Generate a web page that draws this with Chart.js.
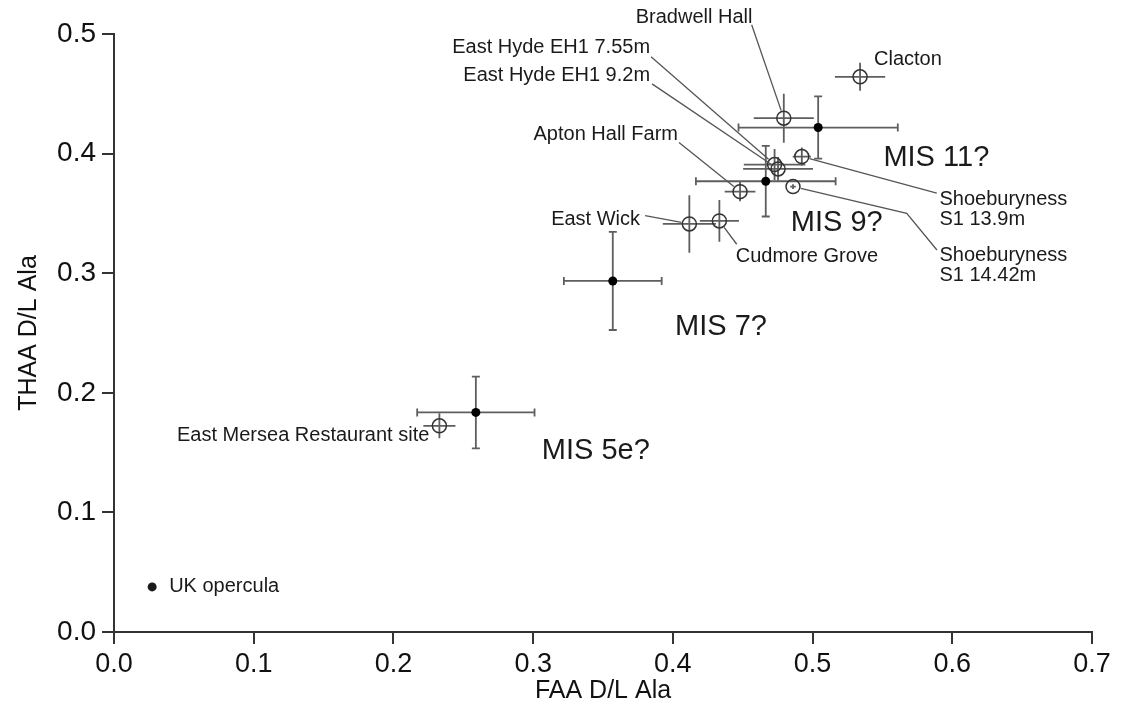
<!DOCTYPE html>
<html>
<head>
<meta charset="utf-8">
<script src="https://cdn.jsdelivr.net/npm/chart.js@4.4.1/dist/chart.umd.min.js"></script>
<style>
	html, body { margin: 0; padding: 0; background: #fff; }
	#wrap { width: 1126px; height: 722px; }
</style>
</head>
<body>
<div id="wrap"><canvas id="chart" width="1126" height="722"></canvas></div>
<script>
// group means (filled dots, capped error bars)
const groupNames = ["MIS 5e", "MIS 7", "MIS 9", "MIS 11"];
const groupFAA = [0.259, 0.357, 0.4665, 0.504];
const groupTHAA = [0.1836, 0.2935, 0.3769, 0.4218];
const groupFAAErr = [0.042, 0.035, 0.050, 0.057];
const groupTHAAErr = [0.030, 0.041, 0.0295, 0.026];

// individual sites (open circles, plain crosses)
const siteNames = ["Clacton", "Bradwell Hall", "Shoeburyness S1 13.9m", "East Hyde EH1 7.55m",
	"East Hyde EH1 9.2m", "Apton Hall Farm", "Shoeburyness S1 14.42m", "East Wick",
	"Cudmore Grove", "East Mersea Restaurant site"];
const siteFAA = [0.534, 0.4794, 0.4923, 0.4728, 0.4753, 0.4481, 0.486, 0.4118, 0.4333, 0.2329];
const siteTHAA = [0.4642, 0.4296, 0.3975, 0.3908, 0.3872, 0.3682, 0.3724, 0.3412, 0.3437, 0.1724];
const siteFAAErr = [0.018, 0.0215, 0.0065, 0.022, 0.025, 0.011, 0.002, 0.019, 0.014, 0.0115];
const siteTHAAErr = [0.0117, 0.0205, 0.0075, 0.013, 0.010, 0.008, 0.002, 0.024, 0.0175, 0.0105];

const xTicks = [0, 0.1, 0.2, 0.3, 0.4, 0.5, 0.6, 0.7];
const yTicks = [0, 0.1, 0.2, 0.3, 0.4, 0.5];

// text placed on the plot, in data units; leader lines end at a site
const siteLabels = [
	{ site: 0, lines: ["Clacton"], x: 0.544, y: 0.4784, align: "left" },
	{ site: 1, lines: ["Bradwell Hall"], x: 0.4152, y: 0.5136, align: "center", leader: [[0.4564, 0.5077]] },
	{ site: 3, lines: ["East Hyde EH1 7.55m"], x: 0.3837, y: 0.4884, align: "right", leader: [[0.3844, 0.4809]] },
	{ site: 4, lines: ["East Hyde EH1 9.2m"], x: 0.3837, y: 0.4650, align: "right", leader: [[0.3851, 0.4583]] },
	{ site: 5, lines: ["Apton Hall Farm"], x: 0.4037, y: 0.4156, align: "right", leader: [[0.4044, 0.4093]] },
	{ site: 7, lines: ["East Wick"], x: 0.3765, y: 0.3451, align: "right", leader: [[0.3801, 0.3481]] },
	{ site: 8, lines: ["Cudmore Grove"], x: 0.4450, y: 0.3138, align: "left", leader: [[0.4457, 0.3242]] },
	{ site: 2, lines: ["Shoeburyness", "S1 13.9m"], x: 0.5908, y: 0.3613, align: "left", leader: [[0.5889, 0.3669]] },
	{ site: 6, lines: ["Shoeburyness", "S1 14.42m"], x: 0.5908, y: 0.3144, align: "left", leader: [[0.5890, 0.3194], [0.5674, 0.3501]] },
	{ site: 9, lines: ["East Mersea Restaurant site"], x: 0.2257, y: 0.1640, align: "right" }
];

const stageLabels = [
	{ text: "MIS 11?", x: 0.5507, y: 0.3964 },
	{ text: "MIS 9?", x: 0.4844, y: 0.3420 },
	{ text: "MIS 7?", x: 0.4016, y: 0.2552 },
	{ text: "MIS 5e?", x: 0.3062, y: 0.1515 }
];

const legendKey = { text: "UK opercula", x: 0.0273, y: 0.0377 };

const FONT = '"Liberation Sans", Arial, sans-serif';
const AXIS = "#333";
const BAR = "#5e5e5e";
const OPEN_R = 7;

function toXY(xs, ys) {
	return xs.map((x, i) => ({ x: x, y: ys[i] }));
}

const errorBars = {
	id: "errorBars",
	beforeDatasetsDraw(chart) {
		const { ctx, scales: { x, y } } = chart;
		ctx.save();
		ctx.strokeStyle = BAR;
		ctx.lineWidth = 1.8;

		function bar(cx, cy, ex, ey, cap) {
			const l = x.getPixelForValue(cx - ex), r = x.getPixelForValue(cx + ex);
			const t = y.getPixelForValue(cy + ey), b = y.getPixelForValue(cy - ey);
			const px = x.getPixelForValue(cx), py = y.getPixelForValue(cy);
			ctx.beginPath();
			ctx.moveTo(l, py); ctx.lineTo(r, py);
			ctx.moveTo(px, t); ctx.lineTo(px, b);
			if (cap) {
				ctx.moveTo(l, py - cap); ctx.lineTo(l, py + cap);
				ctx.moveTo(r, py - cap); ctx.lineTo(r, py + cap);
				ctx.moveTo(px - cap, t); ctx.lineTo(px + cap, t);
				ctx.moveTo(px - cap, b); ctx.lineTo(px + cap, b);
			}
			ctx.stroke();
		}

		groupFAA.forEach((v, i) => bar(v, groupTHAA[i], groupFAAErr[i], groupTHAAErr[i], 4));
		siteFAA.forEach((v, i) => bar(v, siteTHAA[i], siteFAAErr[i], siteTHAAErr[i], 0));
		ctx.restore();
	}
};

const annotations = {
	id: "annotations",
	afterDatasetsDraw(chart) {
		const { ctx, scales: { x, y } } = chart;
		ctx.save();

		// leader lines
		ctx.strokeStyle = "#555";
		ctx.lineWidth = 1.3;
		siteLabels.forEach(lab => {
			if (!lab.leader) return;
			const pts = lab.leader.map(p => [x.getPixelForValue(p[0]), y.getPixelForValue(p[1])]);
			const sx = x.getPixelForValue(siteFAA[lab.site]);
			const sy = y.getPixelForValue(siteTHAA[lab.site]);
			const last = pts[pts.length - 1];
			const d = Math.hypot(sx - last[0], sy - last[1]);
			const ex = sx - (sx - last[0]) / d * (OPEN_R + 1);
			const ey = sy - (sy - last[1]) / d * (OPEN_R + 1);
			ctx.beginPath();
			ctx.moveTo(pts[0][0], pts[0][1]);
			pts.slice(1).forEach(p => ctx.lineTo(p[0], p[1]));
			ctx.lineTo(ex, ey);
			ctx.stroke();
		});

		// site names
		ctx.fillStyle = "#1a1a1a";
		ctx.font = "20px " + FONT;
		ctx.textBaseline = "middle";
		siteLabels.forEach(lab => {
			ctx.textAlign = lab.align;
			const px = x.getPixelForValue(lab.x);
			const py = y.getPixelForValue(lab.y);
			lab.lines.forEach((t, k) => ctx.fillText(t, px, py + k * 20));
		});

		// stage labels
		ctx.font = "29px " + FONT;
		ctx.textAlign = "left";
		stageLabels.forEach(s => ctx.fillText(s.text, x.getPixelForValue(s.x), y.getPixelForValue(s.y)));

		// legend key
		const lx = x.getPixelForValue(legendKey.x), ly = y.getPixelForValue(legendKey.y);
		ctx.beginPath();
		ctx.arc(lx, ly, 4.5, 0, Math.PI * 2);
		ctx.fill();
		ctx.font = "20px " + FONT;
		ctx.fillText(legendKey.text, lx + 17, ly);

		ctx.restore();
	}
};

const axisCommon = {
	type: "linear",
	grid: { drawOnChartArea: false, drawTicks: true, tickLength: 12, color: AXIS, lineWidth: 2 },
	border: { display: true, color: AXIS, width: 2 }
};

const config = {
	type: "scatter",
	data: {
		datasets: [
			{
				label: "sites",
				data: toXY(siteFAA, siteTHAA),
				pointStyle: "circle",
				pointRadius: OPEN_R,
				pointBorderWidth: 1.5,
				pointBorderColor: "#333",
				pointBackgroundColor: "rgba(0,0,0,0)"
			},
			{
				label: "groups",
				data: toXY(groupFAA, groupTHAA),
				pointStyle: "circle",
				pointRadius: 4.5,
				pointBorderWidth: 0,
				pointBackgroundColor: "#000"
			}
		]
	},
	options: {
		responsive: false,
		animation: false,
		devicePixelRatio: 1,
		layout: { padding: { top: 34, right: 34, left: 0, bottom: 0 } },
		plugins: {
			legend: { display: false },
			tooltip: { enabled: false }
		},
		scales: {
			x: Object.assign({}, axisCommon, {
				position: "bottom",
				min: 0,
				max: 0.7,
				afterBuildTicks: s => { s.ticks = xTicks.map(v => ({ value: v })); },
				afterFit: s => { s.height = 90; },
				ticks: {
					color: "#111",
					font: { family: FONT, size: 27 },
					padding: 4,
					maxRotation: 0,
					callback: v => v.toFixed(1)
				},
				title: {
					display: true,
					text: "FAA D/L Ala",
					color: "#111",
					font: { family: FONT, size: 25 },
					padding: { top: 0, bottom: 16 }
				}
			}),
			y: Object.assign({}, axisCommon, {
				position: "left",
				min: 0,
				max: 0.5,
				afterBuildTicks: s => { s.ticks = yTicks.map(v => ({ value: v })); },
				afterFit: s => { s.width = 114; },
				ticks: {
					color: "#111",
					font: { family: FONT, size: 28 },
					padding: 6,
					callback: v => v.toFixed(1)
				},
				title: {
					display: true,
					text: "THAA D/L Ala",
					color: "#111",
					font: { family: FONT, size: 25 },
					padding: { top: 14, bottom: 0 }
				}
			})
		}
	},
	plugins: [errorBars, annotations]
};

new Chart(document.getElementById("chart"), config);
</script>
</body>
</html>
